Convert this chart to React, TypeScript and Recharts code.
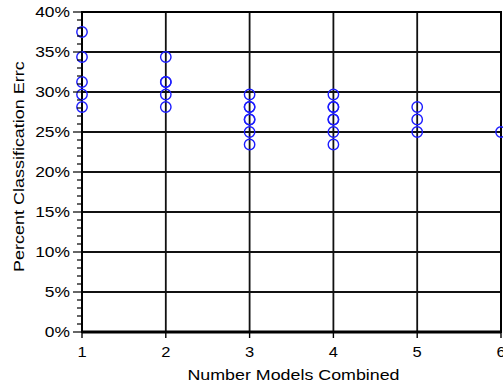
import { ScatterChart, Scatter, XAxis, YAxis, CartesianGrid, ReferenceArea, Label } from 'recharts';

// error rates (%), one list per number of combined models
const modelCounts = [1, 2, 3, 4, 5, 6];
const errors1 = [37.5, 34.375, 31.25, 29.6875, 28.125];
const errors2 = [34.375, 31.25, 31.25, 29.6875, 28.125];
const errors3 = [29.6875, 28.125, 28.125, 26.5625, 26.5625, 25, 23.4375];
const errors4 = [29.6875, 28.125, 28.125, 26.5625, 26.5625, 25, 23.4375];
const errors5 = [28.125, 26.5625, 25];
const errors6 = [25];

const xTicks = [1, 2, 3, 4, 5, 6];
const yMajorTicks = [0, 5, 10, 15, 20, 25, 30, 35, 40];
const yAllTicks = Array.from({ length: 41 }, (_, i) => i);

const errorLists = [errors1, errors2, errors3, errors4, errors5, errors6];
const points = errorLists.flatMap((list, i) => list.map((err) => ({ models: modelCounts[i], err })));

const FONT = '"Liberation Sans", Arial, sans-serif';

const YTick = ({ x, y, payload }: any) => {
    const major = payload.value % 5 === 0;
    return (
        <g>
            <line x1={x - (major ? 9 : 5)} x2={x} y1={y} y2={y} stroke="#000" strokeWidth={1.2} />
            {major && (
                <text
                    transform={`translate(${x - 12},${y + 5.3}) scale(1.2,1)`}
                    textAnchor="end"
                    fontFamily={FONT}
                    fontSize={14.5}
                    fill="#000"
                >
                    {payload.value}%
                </text>
            )}
        </g>
    );
};

const XTick = ({ x, y, payload }: any) => (
    <g>
        <line x1={x} x2={x} y1={y} y2={y + 6} stroke="#000" strokeWidth={1.4} />
        <text
            transform={`translate(${x},${y + 25}) scale(1.1,1)`}
            textAnchor="middle"
            fontFamily={FONT}
            fontSize={15}
            fill="#000"
        >
            {payload.value}
        </text>
    </g>
);

const XTitle = ({ viewBox }: any) => (
    <text
        transform={`translate(${viewBox.x + viewBox.width / 2 + 2},${viewBox.y + 48}) scale(1.19,1)`}
        textAnchor="middle"
        fontFamily={FONT}
        fontSize={15}
        fill="#000"
    >
        Number Models Combined
    </text>
);

const YTitle = ({ viewBox }: any) => (
    <text
        transform={`translate(24,${viewBox.y + viewBox.height / 2 + 100}) rotate(-90) scale(1.2,1)`}
        textAnchor="start"
        fontFamily={FONT}
        fontSize={15}
        fill="#000"
    >
        Percent Classification Errc
    </text>
);

const Ring = ({ cx, cy }: any) => (
    <circle cx={cx} cy={cy} r={5.2} fill="none" stroke="#1c1cff" strokeWidth={1.4} />
);

export default function App() {
    return (
        <div style={{ position: 'absolute', left: 0, top: 0, width: 503, height: 387, overflow: 'hidden', background: '#fff' }}>
            <ScatterChart width={560} height={387} margin={{ top: 12, right: 59, bottom: 0, left: 0 }}>
                <CartesianGrid
                    stroke="#111"
                    strokeWidth={1.8}
                    horizontalValues={yMajorTicks}
                    verticalValues={xTicks}
                />
                <XAxis
                    type="number"
                    dataKey="models"
                    domain={[1, 6]}
                    ticks={xTicks}
                    interval={0}
                    tickSize={0}
                    tickMargin={0}
                    tickLine={false}
                    tick={(p: any) => <XTick {...p} />}
                    axisLine={{ stroke: '#000', strokeWidth: 3 }}
                    height={55}
                >
                    <Label content={XTitle} />
                </XAxis>
                <YAxis
                    type="number"
                    dataKey="err"
                    domain={[0, 40]}
                    ticks={yAllTicks}
                    interval={0}
                    tickSize={0}
                    tickMargin={0}
                    tickLine={false}
                    tick={(p: any) => <YTick {...p} />}
                    axisLine={{ stroke: '#000', strokeWidth: 2 }}
                    width={82}
                >
                    <Label content={YTitle} />
                </YAxis>
                <ReferenceArea x1={1} x2={6} y1={0} y2={40} fill="none" stroke="#000" strokeWidth={2} />
                <Scatter data={points} shape={(p: any) => <Ring {...p} />} isAnimationActive={false} />
            </ScatterChart>
        </div>
    );
}
